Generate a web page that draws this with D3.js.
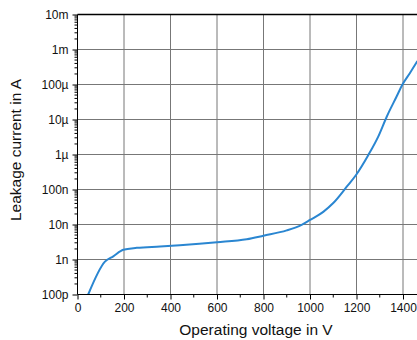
<html>

<head>
    <meta charset="UTF-8">
    <title>Leakage current</title>
    <style>
        body {
            margin: 0;
        }

        svg text {
            font-family: "Liberation Sans", Arial, sans-serif;
            fill: #111;
        }

        .grid line {
            stroke: #777;
            stroke-width: 1;
        }
    </style>
    <script src="https://d3js.org/d3.v7.min.js"></script>
</head>

<body>
    <script type="text/javascript">
        // values
        const voltage = [46, 118, 154, 197, 255, 355, 440, 600, 728, 800, 900, 964, 1000, 1057, 1100, 1158, 1198, 1251, 1294, 1330, 1373, 1397, 1430, 1462]
        const current = [1e-10, 8.7e-10, 1.23e-9, 1.9e-9, 2.15e-9, 2.35e-9, 2.55e-9, 3.1e-9, 3.8e-9, 4.8e-9, 6.8e-9, 9.8e-9, 13.5e-9, 23e-9, 41e-9, 1.2e-7, 2.6e-7, 9.7e-7, 3.3e-6, 1.2e-5, 4.6e-5, 9.8e-5, 2.14e-4, 4.7e-4]

        const xTicks = [0, 200, 400, 600, 800, 1000, 1200, 1400]
        const xMinorTicks = [100, 300, 500, 700, 900, 1100, 1300]
        const yTicks = [1e-10, 1e-9, 1e-8, 1e-7, 1e-6, 1e-5, 1e-4, 1e-3, 1e-2]
        const yTickLabels = ['100p', '1n', '10n', '100n', '1µ', '10µ', '100µ', '1m', '10m']

        const W = 417, H = 340
        const plotLeft = 77.5, plotTop = 14.5, plotBottom = 294.5
        const pxPer200 = 46.5
        const xMax = 1480

        const x = d3.scaleLinear()
            .domain([0, xMax])
            .range([plotLeft, plotLeft + xMax / 200 * pxPer200])

        const y = d3.scaleLog()
            .domain([1e-10, 1e-2])
            .range([plotBottom, plotTop])

        const plotRight = x(xMax)

        // minor ticks on the log axis: 2..9 of every decade
        let yMinor = []
        for (let e = -10; e < -2; e++) {
            for (let m = 2; m <= 9; m++) yMinor.push(m * Math.pow(10, e))
        }

        const svg = d3.select('body').append('svg')
            .attr('width', W)
            .attr('height', H)

        svg.append('defs').append('clipPath')
            .attr('id', 'clip')
            .append('rect')
            .attr('x', plotLeft)
            .attr('y', plotTop)
            .attr('width', plotRight - plotLeft)
            .attr('height', plotBottom - plotTop)

        // grid
        const grid = svg.append('g').attr('class', 'grid')
        grid.selectAll('.gx')
            .data(xTicks.slice(1))
            .enter().append('line')
            .attr('x1', d => x(d)).attr('x2', d => x(d))
            .attr('y1', plotTop).attr('y2', plotBottom)
        grid.selectAll('.gy')
            .data(yTicks.slice(1, -1))
            .enter().append('line')
            .attr('x1', plotLeft).attr('x2', plotRight)
            .attr('y1', d => y(d)).attr('y2', d => y(d))

        // top border
        svg.append('line')
            .attr('x1', plotLeft).attr('x2', plotRight)
            .attr('y1', plotTop).attr('y2', plotTop)
            .attr('stroke', '#000')
            .attr('stroke-width', 1.5)

        // curve
        const line = d3.line()
            .x((d, i) => x(voltage[i]))
            .y(d => y(d))
            .curve(d3.curveMonotoneX)

        svg.append('g')
            .attr('clip-path', 'url(#clip)')
            .append('path')
            .datum(current)
            .attr('d', line)
            .attr('fill', 'none')
            .attr('stroke', '#2a86d1')
            .attr('stroke-width', 2)

        // x axis
        const xAxis = svg.append('g')
            .attr('transform', 'translate(0,' + plotBottom + ')')
        xAxis.call(d3.axisBottom(x)
            .tickValues(xTicks)
            .tickSize(5)
            .tickPadding(4)
            .tickFormat(d3.format('d')))
        xAxis.select('.domain').remove()
        xAxis.append('line')
            .attr('x1', plotLeft).attr('x2', plotRight)
            .attr('stroke', '#000')
        xAxis.selectAll('.minor')
            .data(xMinorTicks)
            .enter().append('line')
            .attr('x1', d => x(d)).attr('x2', d => x(d))
            .attr('y1', 0).attr('y2', 3)
            .attr('stroke', '#000')
        xAxis.selectAll('text')
            .style('font-size', '12px')
            .attr('fill', '#111')

        // y axis
        const yAxis = svg.append('g')
            .attr('transform', 'translate(' + plotLeft + ',0)')
        yAxis.call(d3.axisLeft(y)
            .tickValues(yTicks)
            .tickSize(5)
            .tickPadding(4)
            .tickFormat((d, i) => yTickLabels[i]))
        yAxis.select('.domain').remove()
        yAxis.append('line')
            .attr('y1', plotTop).attr('y2', plotBottom)
            .attr('stroke', '#000')
        yAxis.selectAll('.minor')
            .data(yMinor)
            .enter().append('line')
            .attr('x1', -3).attr('x2', 0)
            .attr('y1', d => y(d)).attr('y2', d => y(d))
            .attr('stroke', '#000')
        yAxis.selectAll('text')
            .style('font-size', '12px')
            .attr('fill', '#111')

        // titles
        svg.append('text')
            .attr('x', 256)
            .attr('y', 335)
            .attr('text-anchor', 'middle')
            .style('font-size', '15.5px')
            .text('Operating voltage in V')

        svg.append('text')
            .attr('transform', 'translate(21,150) rotate(-90)')
            .attr('text-anchor', 'middle')
            .style('font-size', '15.5px')
            .text('Leakage current in A')
    </script>
</body>

</html>
